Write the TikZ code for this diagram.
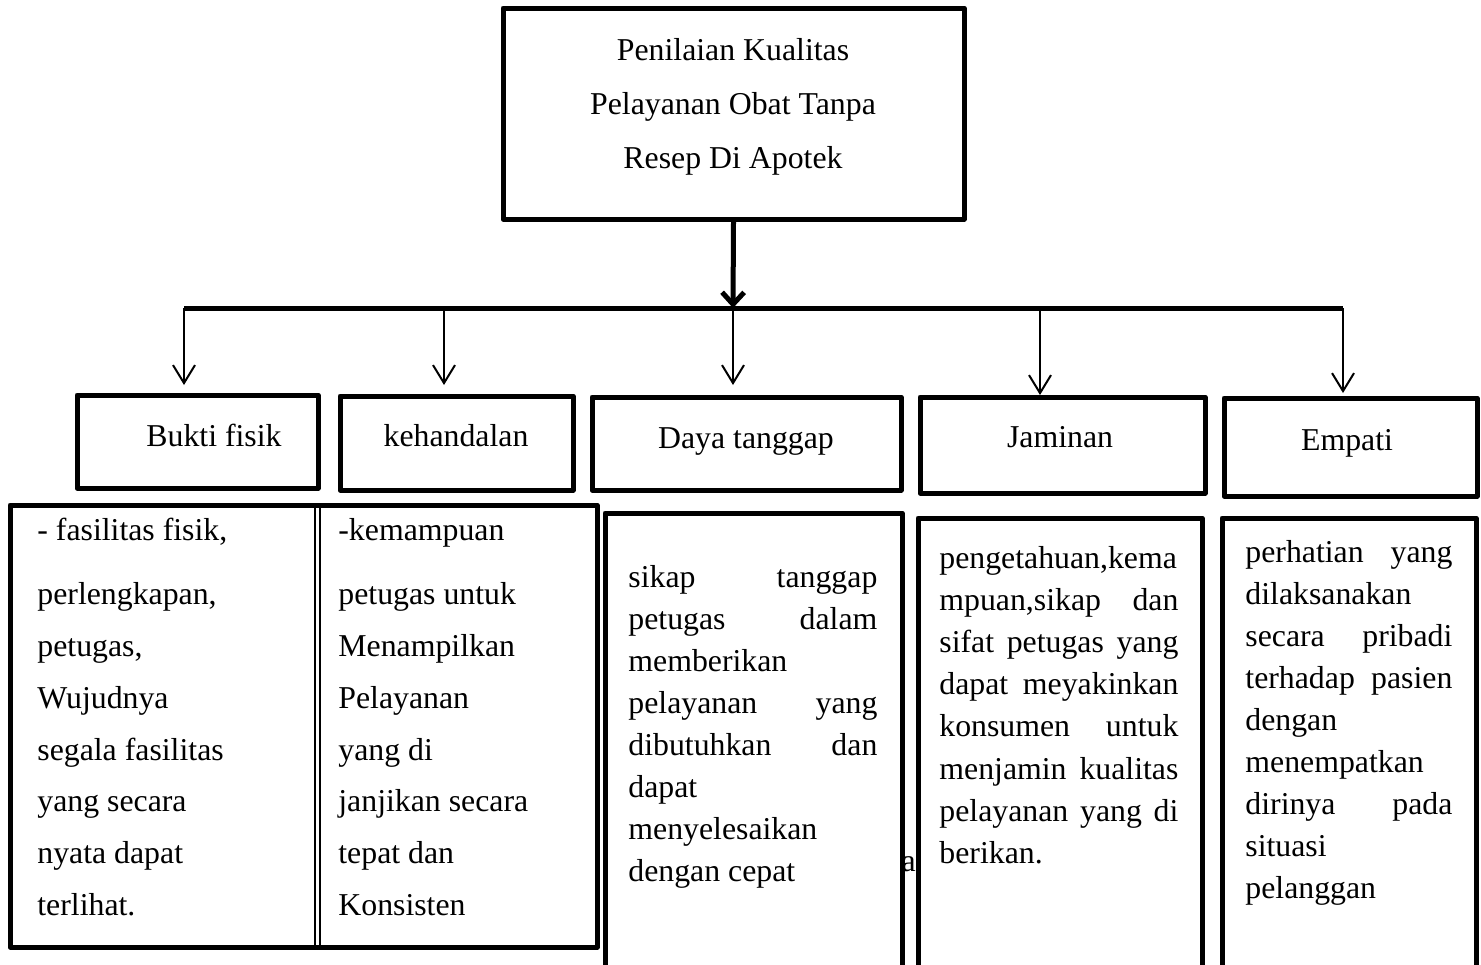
\documentclass[tikz,border=0pt]{standalone}
\usepackage{fontspec}
\setmainfont{Liberation Serif}
\usetikzlibrary{arrows.meta,fit}
\newcommand{\jline}[2]{\makebox[#1][s]{#2}}
\tikzset{
  box/.style={draw, line width=2.5pt, inner sep=0pt, fill=white, line join=round},
  lbl/.style={inner sep=0pt, anchor=base, font=\fontsize{15.9}{21}\selectfont},
  txt/.style={inner sep=0pt, anchor=base west, align=left},
  thinarrow/.style={line width=1pt, -{Straight Barb[length=9pt,width=11pt]}},
  thickarrow/.style={line width=2.5pt, -{Straight Barb[length=6pt,width=11pt]}},
  barline/.style={line width=2.5pt},
}
\begin{document}
\begin{tikzpicture}[x=0.5pt,y=-0.5pt]
\useasboundingbox (0,0) rectangle (1481,964);
\clip (0,0) rectangle (1481,964);
\fill[white] (0,0) rectangle (1481,964);

% top box
\node[box, fit={(503,8)(964,219)}] (top) {};
\node[inner sep=0pt, anchor=base] (toptxt) at (733,60)
  {\parbox[t]{220pt}{\centering\fontsize{15.9}{27}\selectfont Penilaian Kualitas\\Pelayanan Obat Tanpa\\Resep Di Apotek}};

% bar
\coordinate (barL) at (184,308);
\coordinate (barB) at (444,308);
\coordinate (barC) at (733,308);
\coordinate (barD) at (1040,308);
\coordinate (barR) at (1343,308);
\draw[barline] (barL) -- (barR);
\draw[thickarrow] (top.south) -- (barC);

% level-2 boxes
\node[box, fit={(77,395)(318,488)}] (bukti) {};
\node[lbl] (buktitxt) at (214,446) {Bukti fisik};
\node[box, fit={(340,396)(573,490)}] (keh) {};
\node[lbl] (kehtxt) at (456,446) {kehandalan};
\node[box, fit={(592,397)(901,490)}] (daya) {};
\node[lbl] (dayatxt) at (746,448) {Daya tanggap};
\node[box, fit={(920,397)(1205,493)}] (jam) {};
\node[lbl] (jamtxt) at (1060,447) {Jaminan};
\node[box, fit={(1224,398)(1477,496)}] (emp) {};
\node[lbl] (emptxt) at (1347,450) {Empati};

% arrow tips
\coordinate (tA) at (184,385);
\coordinate (tB) at (444,385);
\coordinate (tC) at (733,385);
\coordinate (tD) at (1040,395);
\coordinate (tE) at (1343,393);
\draw[thinarrow] (barL) -- (tA);
\draw[thinarrow] (barB) -- (tB);
\draw[thinarrow] (barC) -- (tC);
\draw[thinarrow] (barD) -- (tD);
\draw[thinarrow] (barR) -- (tE);

% stray text
\node[inner sep=0pt, anchor=base east, font=\fontsize{15.9}{21}\selectfont] (va) at (916,871) {va};

% left detail box
\node[box, fit={(10,505)(597,947)}] (leftbox) {};
\draw[line width=0.8pt] (315,505) -- (315,947);
\draw[line width=0.8pt] (320,505) -- (320,947);
\node[txt] (col1) at (37,540) {\parbox[t]{135pt}{\raggedright\fontsize{15.9}{25.85}\selectfont
- fasilitas fisik,\\[6.6pt]
perlengkapan,\\
petugas,\\
Wujudnya\\
segala fasilitas\\
yang secara\\
nyata dapat\\
terlihat.}};
\node[txt] (col2) at (338,540) {\parbox[t]{125pt}{\raggedright\fontsize{15.9}{25.85}\selectfont
-kemampuan\\[6.6pt]
petugas untuk\\
Menampilkan\\
Pelayanan\\
yang di\\
janjikan secara\\
tepat dan\\
Konsisten}};

% Daya tanggap detail
\node[box, fit={(605,513)(902,1000)}] (dayabox) {};
\node[txt] (dayadet) at (628,587) {\parbox[t]{124.5pt}{\raggedright\fontsize{15.9}{21}\selectfont
\jline{124.5pt}{sikap tanggap}\\
\jline{124.5pt}{petugas dalam}\\
memberikan\\
\jline{124.5pt}{pelayanan yang}\\
\jline{124.5pt}{dibutuhkan dan}\\
dapat\\
menyelesaikan\\
dengan cepat}};

% Jaminan detail
\node[box, fit={(918,518)(1202,1000)}] (jambox) {};
\node[txt] (jamdet) at (939,568) {\parbox[t]{119.5pt}{\raggedright\fontsize{15.9}{21.1}\selectfont
\jline{119.5pt}{pengetahuan,kema}\\
\jline{119.5pt}{mpuan,sikap dan}\\
\jline{119.5pt}{sifat petugas yang}\\
\jline{119.5pt}{dapat meyakinkan}\\
\jline{119.5pt}{konsumen untuk}\\
\jline{119.5pt}{menjamin kualitas}\\
\jline{119.5pt}{pelayanan yang di}\\
berikan.}};

% Empati detail
\node[box, fit={(1222,518)(1476,1000)}] (empbox) {};
\node[txt] (empdet) at (1245,562) {\parbox[t]{103.5pt}{\raggedright\fontsize{15.9}{21}\selectfont
\jline{103.5pt}{perhatian yang}\\
dilaksanakan\\
\jline{103.5pt}{secara pribadi}\\
\jline{103.5pt}{terhadap pasien}\\
dengan\\
menempatkan\\
\jline{103.5pt}{dirinya pada}\\
situasi\\
pelanggan}};
\end{tikzpicture}
\end{document}
